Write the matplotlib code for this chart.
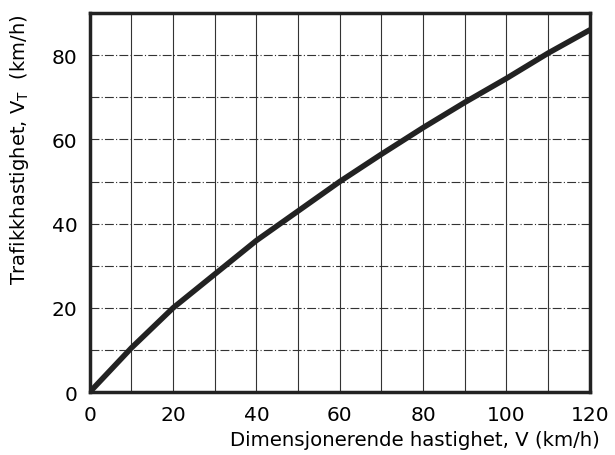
import matplotlib
matplotlib.use("Agg")
import matplotlib.pyplot as plt

# design speed V (km/h) vs traffic speed V_T (km/h)
v_design = [0, 10, 20, 30, 40, 50, 60, 70, 80, 90, 100, 110, 120]
v_traffic = [0, 10.5, 20, 28, 36, 43, 50, 56.5, 62.8, 68.8, 74.5, 80.5, 86]

x_ticks = [0, 20, 40, 60, 80, 100, 120]
y_ticks = [0, 20, 40, 60, 80]

plt.rcParams["font.family"] = ["DejaVu Sans"]

fig = plt.figure(figsize=(6.15, 4.56), dpi=100)
ax = fig.add_axes([0.146, 0.138, 0.813, 0.831])

for x in range(10, 120, 10):
    ax.axvline(x, color="#333333", lw=0.8, zorder=1)
for y in range(10, 90, 10):
    ax.axhline(y, color="#333333", lw=0.8, ls=(0, (8, 2, 1, 2)), zorder=1)

ax.plot(v_design, v_traffic, color="#222222", lw=4, solid_capstyle="round",
        zorder=3)

ax.set_xlim(0, 120)
ax.set_ylim(0, 90)
ax.set_xticks(x_ticks)
ax.set_yticks(y_ticks)
ax.tick_params(length=0, labelsize=14.5, pad=9)
for s in ax.spines.values():
    s.set_linewidth(2.5)
    s.set_color("#222222")

ax.set_xlabel("Dimensjonerende hastighet, V (km/h)", fontsize=14.2)
ax.xaxis.set_label_coords(1.02, -0.10)
ax.xaxis.label.set_horizontalalignment("right")
ax.set_ylabel("Trafikkhastighet, V$_\\mathregular{T}$  (km/h)", fontsize=14)
ax.yaxis.set_label_coords(-0.14, 1.0)
ax.yaxis.label.set_verticalalignment("center")
ax.yaxis.label.set_horizontalalignment("right")

fig.savefig("out.png", dpi=100)
